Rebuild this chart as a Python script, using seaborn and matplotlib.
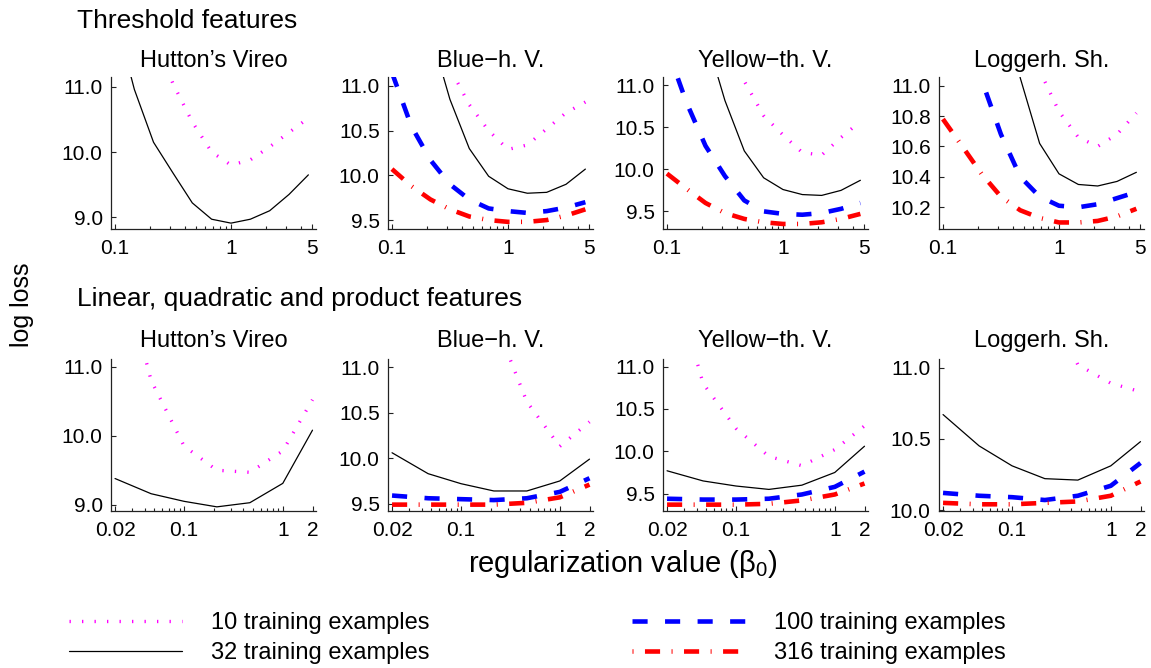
# %%
# Curvas de log loss x valor de regularização (painéis por espécie)
import matplotlib
matplotlib.use('Agg')
import matplotlib.pyplot as plt
import seaborn as sns
import pandas as pd
from matplotlib.lines import Line2D
from matplotlib.ticker import FixedLocator, NullFormatter, FormatStrFormatter

# --- 1. DADOS ---
BETA_THR = [0.1, 0.147, 0.215, 0.316, 0.464, 0.681, 1.0, 1.468, 2.154, 3.162, 4.642]
BETA_LQP = [0.02, 0.0464, 0.1, 0.215, 0.464, 1.0, 2.0]
ESPECIES = ['Hutton\u2019s Vireo', 'Blue\u2212h. V.', 'Yellow\u2212th. V.', 'Loggerh. Sh.']
N_TREINO = ['10', '32', '100', '316']
ROTULOS = ['10 training examples', '32 training examples',
           '100 training examples', '316 training examples']

# threshold features
thr_hutton_10 = [14.0, 12.8, 11.8, 11.05, 10.46, 10.0, 9.8, 9.88, 10.08, 10.3, 10.52]
thr_hutton_32 = [12.1, 10.96, 10.15, 9.68, 9.22, 8.97, 8.91, 8.97, 9.10, 9.35, 9.65]

thr_blue_10 = [14.5, 13.3, 12.2, 11.2, 10.79, 10.5, 10.29, 10.34, 10.52, 10.7, 10.82]
thr_blue_32 = [13.5, 12.5, 11.6, 10.85, 10.3, 9.99, 9.85, 9.80, 9.81, 9.90, 10.07]
thr_blue_100 = [11.15, 10.55, 10.17, 9.9, 9.73, 9.63, 9.6, 9.58, 9.6, 9.64, 9.7]
thr_blue_316 = [10.07, 9.88, 9.73, 9.62, 9.54, 9.5, 9.48, 9.48, 9.5, 9.55, 9.62]

thr_yellow_10 = [14.2, 13.4, 12.6, 11.8, 11.05, 10.64, 10.41, 10.2, 10.17, 10.38, 10.57]
thr_yellow_32 = [13.3, 12.4, 11.6, 10.82, 10.22, 9.9, 9.76, 9.70, 9.69, 9.75, 9.87]
thr_yellow_100 = [11.45, 10.8, 10.28, 9.92, 9.63, 9.5, 9.47, 9.46, 9.48, 9.53, 9.6]
thr_yellow_316 = [9.95, 9.77, 9.6, 9.48, 9.41, 9.37, 9.35, 9.35, 9.37, 9.41, 9.47]

thr_logger_10 = [14.0, 13.2, 12.5, 11.9, 11.5, 11.1, 10.83, 10.66, 10.6, 10.68, 10.82]
thr_logger_32 = [13.5, 12.8, 12.2, 11.6, 11.05, 10.62, 10.42, 10.35, 10.34, 10.37, 10.43]
thr_logger_100 = [12.0, 11.45, 11.04, 10.68, 10.4, 10.27, 10.21, 10.2, 10.22, 10.26, 10.3]
thr_logger_316 = [10.78, 10.6, 10.42, 10.27, 10.18, 10.13, 10.1, 10.1, 10.11, 10.14, 10.19]

# linear, quadratic and product features
lqp_hutton_10 = [12.8, 10.8, 9.85, 9.5, 9.47, 9.78, 10.52]
lqp_hutton_32 = [9.38, 9.16, 9.05, 8.97, 9.03, 9.31, 10.08]

lqp_blue_10 = [13.8, 13.0, 12.3, 11.54, 10.62, 10.13, 10.4]
lqp_blue_32 = [10.06, 9.83, 9.72, 9.64, 9.64, 9.75, 9.99]
lqp_blue_100 = [9.59, 9.56, 9.55, 9.54, 9.56, 9.63, 9.78]
lqp_blue_316 = [9.49, 9.49, 9.49, 9.49, 9.51, 9.57, 9.71]

lqp_yellow_10 = [12.3, 10.8, 10.27, 9.94, 9.83, 10.02, 10.3]
lqp_yellow_32 = [9.77, 9.65, 9.59, 9.55, 9.6, 9.75, 10.06]
lqp_yellow_100 = [9.44, 9.43, 9.43, 9.44, 9.49, 9.58, 9.76]
lqp_yellow_316 = [9.37, 9.37, 9.37, 9.38, 9.42, 9.49, 9.62]

lqp_logger_10 = [13.0, 12.3, 11.8, 11.5, 11.02, 10.89, 10.83]
lqp_logger_32 = [10.67, 10.45, 10.31, 10.22, 10.21, 10.31, 10.48]
lqp_logger_100 = [10.12, 10.1, 10.09, 10.07, 10.1, 10.17, 10.33]
lqp_logger_316 = [10.05, 10.04, 10.04, 10.05, 10.06, 10.1, 10.2]

paineis_thr = [
    {'10': thr_hutton_10, '32': thr_hutton_32},
    {'10': thr_blue_10, '32': thr_blue_32, '100': thr_blue_100, '316': thr_blue_316},
    {'10': thr_yellow_10, '32': thr_yellow_32, '100': thr_yellow_100, '316': thr_yellow_316},
    {'10': thr_logger_10, '32': thr_logger_32, '100': thr_logger_100, '316': thr_logger_316},
]
paineis_lqp = [
    {'10': lqp_hutton_10, '32': lqp_hutton_32},
    {'10': lqp_blue_10, '32': lqp_blue_32, '100': lqp_blue_100, '316': lqp_blue_316},
    {'10': lqp_yellow_10, '32': lqp_yellow_32, '100': lqp_yellow_100, '316': lqp_yellow_316},
    {'10': lqp_logger_10, '32': lqp_logger_32, '100': lqp_logger_100, '316': lqp_logger_316},
]

# --- 2. ESTILO ---
sns.set_style('ticks')
plt.rcParams['font.family'] = ['Liberation Sans', 'DejaVu Sans']
plt.rcParams['mathtext.fontset'] = 'custom'
plt.rcParams['mathtext.rm'] = 'Liberation Sans'
plt.rcParams['mathtext.it'] = 'Liberation Sans:italic'
plt.rcParams['text.color'] = 'black'
plt.rcParams['axes.labelcolor'] = 'black'
plt.rcParams['xtick.color'] = 'black'
plt.rcParams['ytick.color'] = 'black'

cores = {'10': '#ff00ff', '32': 'black', '100': '#0000ff', '316': '#ff0000'}
larguras = {'10': 2.4, '32': 0.9, '100': 3.3, '316': 3.3}
tracos = {'10': (0.4, 3.35), '32': '', '100': (3.3, 3.8), '316': (3.3, 2.5, 0.22, 2.5)}

W, H = 1151, 668
fig = plt.figure(figsize=(W / 100, H / 100), dpi=100)

lefts = [111, 388, 663, 939]
larg_px = 205
alt_px = 152


def novo_eixo(left, top):
    return fig.add_axes([left / W, 1 - (top + alt_px) / H, larg_px / W, alt_px / H])


def desenha(ax, betas, series, xlim, ylim, xticks, xlabels, xminor, yticks, titulo, pad):
    linhas = []
    for n, vals in series.items():
        linhas.append(pd.DataFrame({'beta': betas, 'loss': vals, 'n': n}))
    df = pd.concat(linhas, ignore_index=True)
    ordem = [n for n in N_TREINO if n in series]
    sns.lineplot(data=df, x='beta', y='loss', hue='n', style='n', size='n',
                 hue_order=ordem, style_order=ordem, size_order=ordem,
                 palette=cores, dashes=tracos, sizes=larguras,
                 estimator=None, legend=False, ax=ax)
    ax.set_xscale('log')
    ax.set_xlim(*xlim)
    ax.set_ylim(*ylim)
    ax.xaxis.set_major_locator(FixedLocator(xticks))
    ax.set_xticklabels(xlabels)
    ax.xaxis.set_minor_locator(FixedLocator(xminor))
    ax.xaxis.set_minor_formatter(NullFormatter())
    ax.yaxis.set_major_locator(FixedLocator(yticks))
    ax.yaxis.set_major_formatter(FormatStrFormatter('%.1f'))
    ax.set_xlabel('')
    ax.set_ylabel('')
    ax.set_title(titulo, fontsize=17, pad=pad, color='black')
    sns.despine(ax=ax)
    for s in ['left', 'bottom']:
        ax.spines[s].set_linewidth(0.9)
        ax.spines[s].set_color('#222222')
    ax.tick_params(which='both', direction='in', width=0.8, colors='#222222',
                   labelcolor='black', labelsize=15)
    ax.tick_params(which='major', length=3.5)
    ax.tick_params(which='minor', length=2)
    ax.tick_params(axis='x', pad=7)
    ax.tick_params(axis='y', pad=6)


ylims_thr = [(8.82, 11.15), (9.40, 11.1), (9.29, 11.1), (10.057, 11.057)]
ylims_lqp = [(8.91, 11.11), (9.42, 11.09), (9.295, 11.09), (9.993, 11.06)]
yticks_thr = [[9.0, 10.0, 11.0], [9.5, 10.0, 10.5, 11.0], [9.5, 10.0, 10.5, 11.0],
              [10.2, 10.4, 10.6, 10.8, 11.0]]
yticks_lqp = [[9.0, 10.0, 11.0], [9.5, 10.0, 10.5, 11.0], [9.5, 10.0, 10.5, 11.0],
              [10.0, 10.5, 11.0]]
minor_thr = [0.2, 0.3, 0.4, 0.5, 0.6, 0.7, 0.8, 0.9, 2, 3, 4]
minor_lqp = [0.03, 0.04, 0.05, 0.06, 0.07, 0.08, 0.09,
             0.2, 0.3, 0.4, 0.5, 0.6, 0.7, 0.8, 0.9]

for i in range(4):
    ax = novo_eixo(lefts[i], 77)
    desenha(ax, BETA_THR, paineis_thr[i], (0.0925, 5.4), ylims_thr[i],
            [0.1, 1, 5], ['0.1', '1', '5'], minor_thr, yticks_thr[i], ESPECIES[i], 7.5)
    ax = novo_eixo(lefts[i], 359)
    desenha(ax, BETA_LQP, paineis_lqp[i], (0.0182, 2.17), ylims_lqp[i],
            [0.02, 0.1, 1, 2], ['0.02', '0.1', '1', '2'], minor_lqp, yticks_lqp[i],
            ESPECIES[i], 8.5)

# --- 3. TEXTOS DA FIGURA ---
fig.text(77 / W, 1 - 28 / H, 'Threshold features', fontsize=19, va='baseline', ha='left')
fig.text(77 / W, 1 - 306 / H, 'Linear, quadratic and product features', fontsize=19,
         va='baseline', ha='left')
fig.text(22 / W, 1 - 305 / H, 'log loss', fontsize=18, rotation=90, va='center', ha='center')
fig.text(623 / W, 1 - 572 / H, r'regularization value ($\mathrm{\beta}_0$)', fontsize=21,
         va='baseline', ha='center')

# --- 4. LEGENDA ---
handles = []
for n in N_TREINO:
    h = Line2D([], [], color=cores[n], linewidth=larguras[n])
    if tracos[n]:
        if n == '316':
            h.set_linestyle((3.3 + 2.5, tracos[n]))
        else:
            h.set_dashes(tracos[n])
    handles.append(h)

fig.legend(handles, ROTULOS, ncol=2, loc='upper left', bbox_to_anchor=(69 / W, 1 - 612 / H),
           frameon=False, fontsize=17, handlelength=4.8, handletextpad=1.2,
           columnspacing=8.6, labelspacing=0.36, borderpad=0, borderaxespad=0)

plt.savefig('out.png', dpi=100)
